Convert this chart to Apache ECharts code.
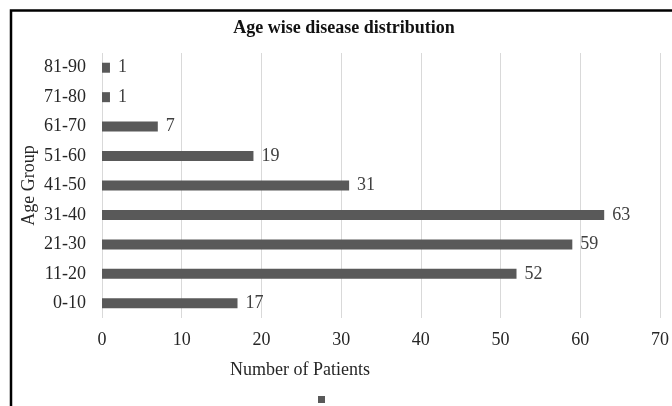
<!DOCTYPE html>
<html>
<head>
<meta charset="utf-8">
<style>
html,body{margin:0;padding:0;background:#fff;}
#chart{width:672px;height:406px;}
</style>
<script src="https://cdn.jsdelivr.net/npm/echarts@6/dist/echarts.min.js"></script>
</head>
<body>
<div id="chart"></div>
<script>
const categories = ['0-10','11-20','21-30','31-40','41-50','51-60','61-70','71-80','81-90'];
const patients = [17, 52, 59, 63, 31, 19, 7, 1, 1];
const xTicks = [0, 10, 20, 30, 40, 50, 60, 70];

const serif = '"Liberation Serif", "Times New Roman", serif';
const chart = echarts.init(document.getElementById('chart'));
chart.setOption({
  animation: false,
  backgroundColor: '#ffffff',
  title: {
    text: 'Age wise disease distribution',
    left: 339, top: 14, textAlign: 'center',
    textStyle: {fontFamily: serif, fontWeight: 'bold', fontSize: 18, color: '#111'}
  },
  legend: {
    data: [' '],
    left: 313, top: 391,
    itemWidth: 7, itemHeight: 7, itemGap: 0,
    icon: 'rect',
    formatter: function(){ return ''; },
    textStyle: {fontSize: 1}
  },
  grid: {left: 102, right: 11, top: 53, bottom: 88, containLabel: false},
  xAxis: {
    type: 'value', min: xTicks[0], max: xTicks[xTicks.length-1], interval: 10,
    name: 'Number of Patients', nameLocation: 'middle', nameGap: 43,
    nameTextStyle: {fontFamily: serif, fontSize: 18, color: '#262626', align: 'center', padding: [0, 162, 0, 0]},
    axisLine: {show: false}, axisTick: {show: false},
    axisLabel: {fontFamily: serif, fontSize: 18, color: '#262626', margin: 13},
    splitLine: {show: true, lineStyle: {color: '#d9d9d9', width: 1}}
  },
  yAxis: {
    type: 'category', data: categories,
    name: 'Age Group', nameLocation: 'middle', nameGap: 64, nameRotate: 90,
    nameMoveOverlap: false,
    nameTextStyle: {fontFamily: serif, fontSize: 18, color: '#262626'},
    axisLine: {show: false}, axisTick: {show: false},
    axisLabel: {fontFamily: serif, fontSize: 18, color: '#262626', margin: 16}
  },
  series: [{
    name: ' ', type: 'bar', data: patients, barWidth: 10,
    itemStyle: {color: '#595959'},
    label: {show: true, position: 'right', distance: 8,
      fontFamily: serif, fontSize: 18, color: '#404040'}
  }],
  graphic: [{
    type: 'polyline',
    shape: {points: [[11, 406], [11, 10.5], [672, 10.5]]},
    style: {stroke: '#000', lineWidth: 2.5, fill: null}
  }]
});
</script>
</body>
</html>
